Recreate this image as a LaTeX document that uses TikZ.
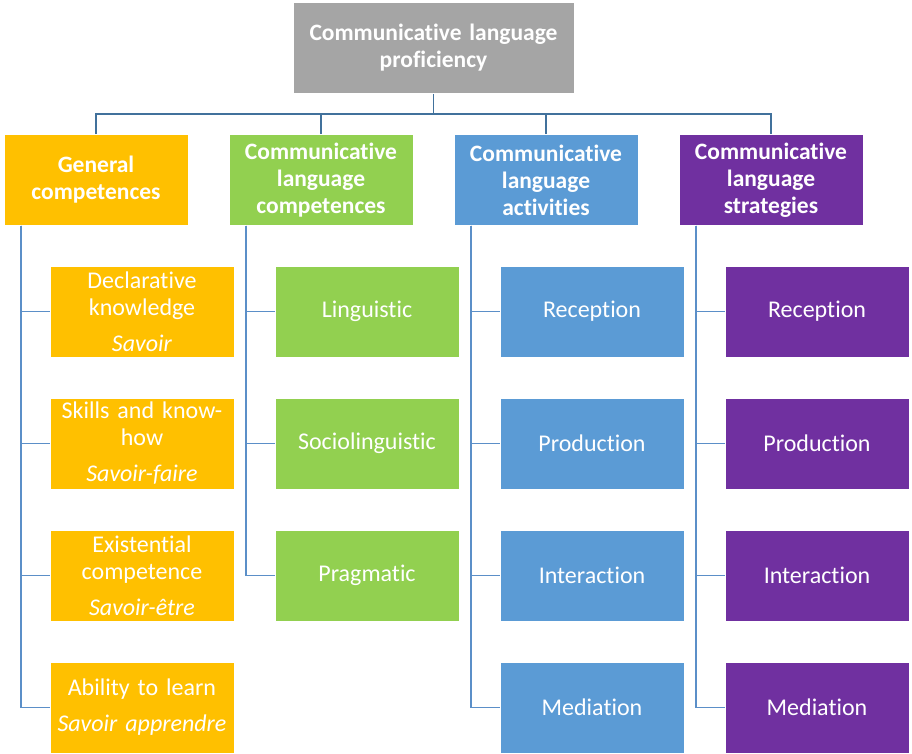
\documentclass[tikz,border=0pt]{standalone}
\usepackage{fontspec}
\setmainfont{Carlito}[Ligatures=NoCommon]
\definecolor{cgray}{HTML}{A5A5A5}
\definecolor{cgold}{HTML}{FFC000}
\definecolor{cgreen}{HTML}{92D050}
\definecolor{cblue}{HTML}{5B9BD5}
\definecolor{cpurple}{HTML}{7030A0}
\definecolor{linetop}{HTML}{41719C}
\definecolor{linechild}{HTML}{5B8FC8}
\begin{document}
\begin{tikzpicture}[x=1pt,y=-1pt,
  box/.style={rectangle, draw=white, line width=0.6pt, inner xsep=1pt, inner ysep=1pt, text width=182pt, minimum height=91pt, align=center, text=white, font=\fontsize{24}{27}\selectfont},
  head/.style={box, font=\fontsize{23.5}{27}\selectfont\bfseries},
  toplink/.style={draw=linetop, line width=1.5pt},
  childlink/.style={draw=linechild, line width=1.3pt}]
\useasboundingbox (0,0) rectangle (912,753);
% top
\node[head, fill=cgray, text width=279pt, minimum height=91pt] (top) at (433.5,48) {Communicative language\\proficiency};
% level 1
\node[head, fill=cgold] (gen) at (96,180) {General\\competences};
\node[head, fill=cgreen] (clc) at (321,180) {Communicative\\language\\competences};
\node[head, fill=cblue] (cla) at (546,180) {Communicative\\language\\activities};
\node[head, fill=cpurple] (cls) at (771,180) {Communicative\\language\\strategies};
% bus
\coordinate (bus) at (433.5,114);
\draw[toplink] (top.south) -- (top.south |- bus);
\draw[toplink] (gen.north) |- (cls.north |- bus) -- (cls.north);
\draw[toplink] (clc.north) -- (clc.north |- bus);
\draw[toplink] (cla.north) -- (cla.north |- bus);
% general children
\node[box, fill=cgold] (g1) at (142,311.5) {Declarative\\knowledge\\[9pt]\textit{Savoir}};
\node[box, fill=cgold] (g2) at (142,443.5) {Skills and know-\\how\\[9pt]\textit{Savoir-faire}};
\node[box, fill=cgold] (g3) at (142,575.5) {Existential\\competence\\[9pt]\textit{Savoir-être}};
\node[box, fill=cgold] (g4) at (142,707.5) {Ability to learn\\[9pt]\textit{Savoir apprendre}};
% competences children
\node[box, fill=cgreen] (c1) at (367,311.5) {Linguistic};
\node[box, fill=cgreen] (c2) at (367,443.5) {Sociolinguistic};
\node[box, fill=cgreen] (c3) at (367,575.5) {Pragmatic};
% activities children
\node[box, fill=cblue] (a1) at (592,311.5) {Reception};
\node[box, fill=cblue] (a2) at (592,443.5) {Production};
\node[box, fill=cblue] (a3) at (592,575.5) {Interaction};
\node[box, fill=cblue] (a4) at (592,707.5) {Mediation};
% strategies children
\node[box, fill=cpurple] (s1) at (817,311.5) {Reception};
\node[box, fill=cpurple] (s2) at (817,443.5) {Production};
\node[box, fill=cpurple] (s3) at (817,575.5) {Interaction};
\node[box, fill=cpurple] (s4) at (817,707.5) {Mediation};
% trunks
\coordinate (gt) at (21,225.5);
\coordinate (ct) at (246,225.5);
\coordinate (at) at (471,225.5);
\coordinate (st) at (696,225.5);
\foreach \c in {g1,g2,g3,g4} \draw[childlink] (gt) |- (\c.west);
\foreach \c in {c1,c2,c3} \draw[childlink] (ct) |- (\c.west);
\foreach \c in {a1,a2,a3,a4} \draw[childlink] (at) |- (\c.west);
\foreach \c in {s1,s2,s3,s4} \draw[childlink] (st) |- (\c.west);
\end{tikzpicture}
\end{document}
